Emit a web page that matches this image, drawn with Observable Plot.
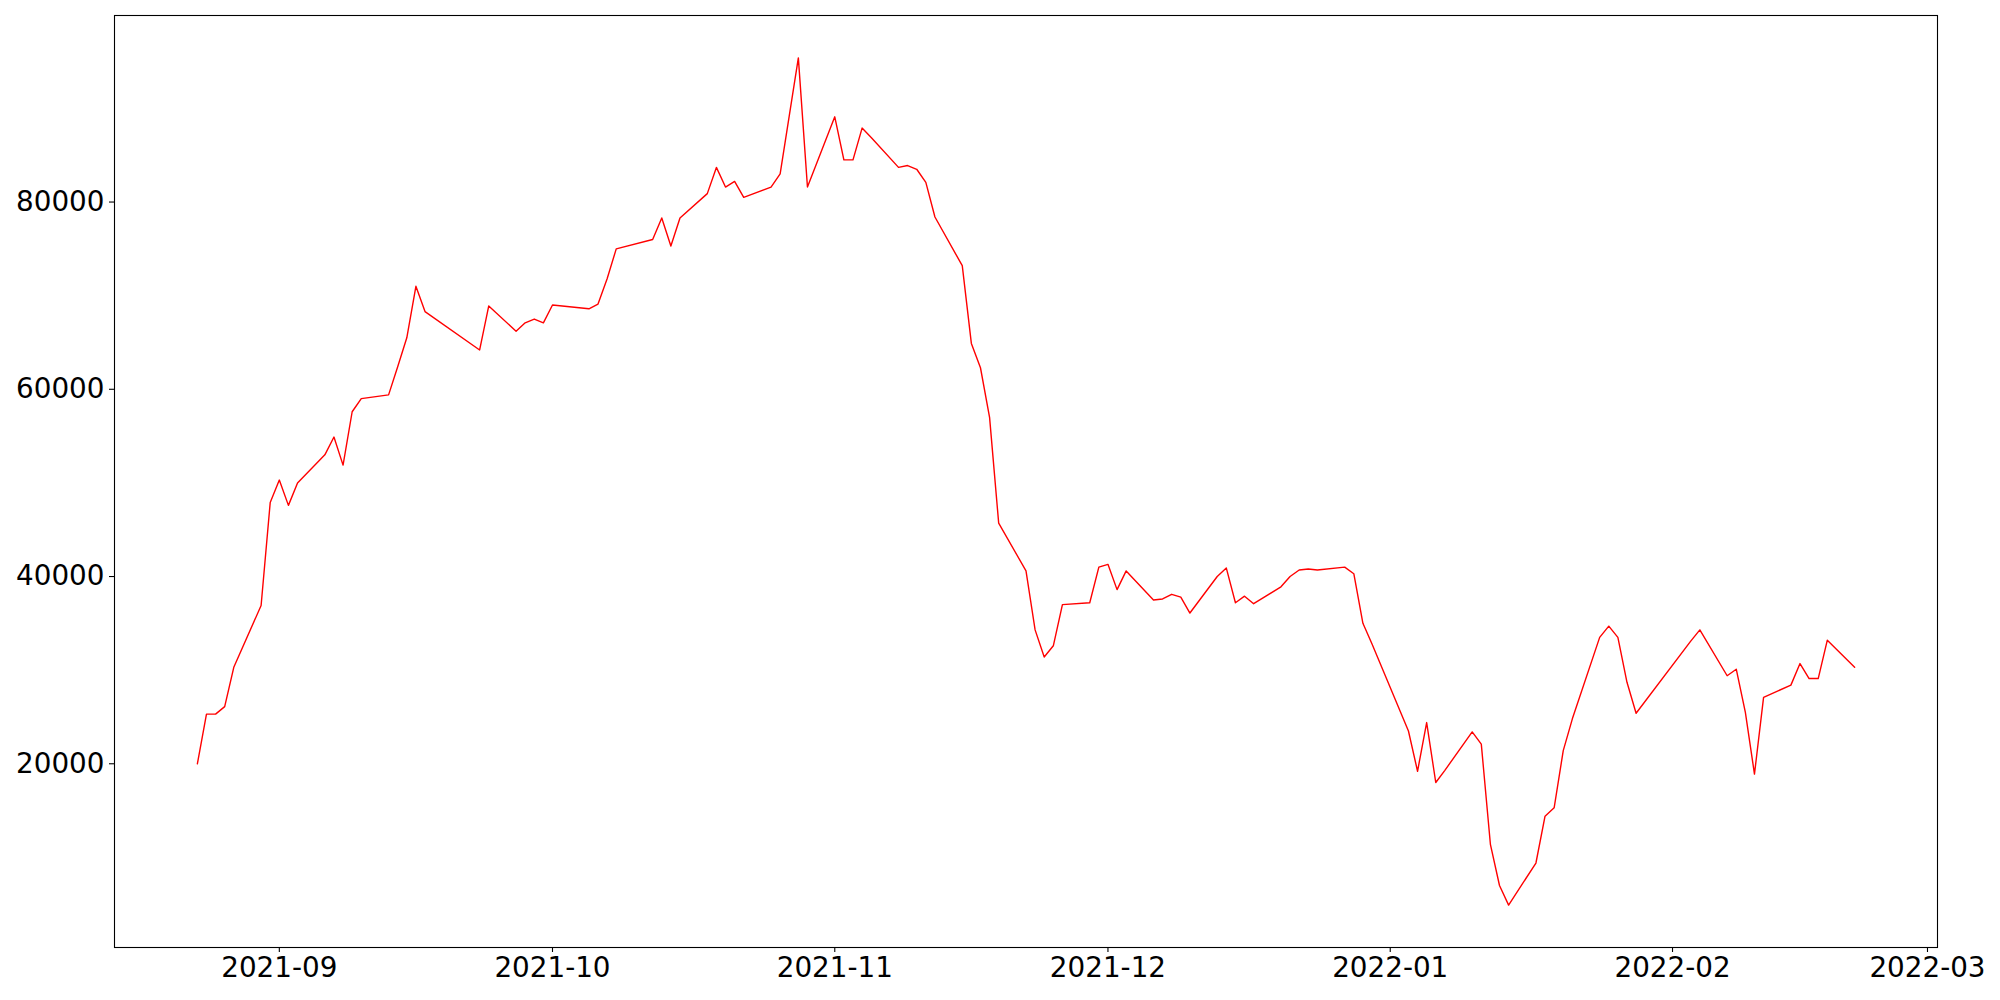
<!DOCTYPE html>
<html>
<head>
<meta charset="utf-8">
<script src="https://cdn.jsdelivr.net/npm/d3@7"></script>
<script src="https://cdn.jsdelivr.net/npm/@observablehq/plot@0.6"></script>
<style>
  html, body { margin: 0; padding: 0; background: #ffffff; }
  #chart { width: 2000px; height: 1000px; }
</style>
</head>
<body>
<div id="chart"></div>
<script>
// Trading dates (weekdays, market holidays absent)
const dates = [
  "2021-08-23","2021-08-24","2021-08-25","2021-08-26","2021-08-27",
  "2021-08-30","2021-08-31","2021-09-01","2021-09-02","2021-09-03",
  "2021-09-06","2021-09-07","2021-09-08","2021-09-09","2021-09-10",
  "2021-09-13","2021-09-14","2021-09-15","2021-09-16","2021-09-17",
  "2021-09-23","2021-09-24",
  "2021-09-27","2021-09-28","2021-09-29","2021-09-30","2021-10-01",
  "2021-10-05","2021-10-06","2021-10-07","2021-10-08",
  "2021-10-12","2021-10-13","2021-10-14","2021-10-15",
  "2021-10-18","2021-10-19","2021-10-20","2021-10-21","2021-10-22",
  "2021-10-25","2021-10-26","2021-10-27","2021-10-28","2021-10-29",
  "2021-11-01","2021-11-02","2021-11-03","2021-11-04","2021-11-05",
  "2021-11-08","2021-11-09","2021-11-10","2021-11-11","2021-11-12",
  "2021-11-15","2021-11-16","2021-11-17","2021-11-18","2021-11-19",
  "2021-11-22","2021-11-23","2021-11-24","2021-11-25","2021-11-26",
  "2021-11-29","2021-11-30","2021-12-01","2021-12-02","2021-12-03",
  "2021-12-06","2021-12-07","2021-12-08","2021-12-09","2021-12-10",
  "2021-12-13","2021-12-14","2021-12-15","2021-12-16","2021-12-17",
  "2021-12-20","2021-12-21","2021-12-22","2021-12-23","2021-12-24",
  "2021-12-27","2021-12-28","2021-12-29","2021-12-30",
  "2022-01-03","2022-01-04","2022-01-05","2022-01-06","2022-01-07",
  "2022-01-10","2022-01-11","2022-01-12","2022-01-13","2022-01-14",
  "2022-01-17","2022-01-18","2022-01-19","2022-01-20","2022-01-21",
  "2022-01-24","2022-01-25","2022-01-26","2022-01-27","2022-01-28",
  "2022-02-03","2022-02-04",
  "2022-02-07","2022-02-08","2022-02-09","2022-02-10","2022-02-11",
  "2022-02-14","2022-02-15","2022-02-16","2022-02-17","2022-02-18",
  "2022-02-21"
];

const values = [
  20000, 25300, 25300, 26100, 30300,
  36900, 47900, 50300, 47600, 50000,
  53000, 54900, 51900, 57600, 59000,
  59400, 62400, 65500, 71000, 68300,
  64200, 68900,
  66200, 67100, 67500, 67100, 69000,
  68600, 69100, 71800, 75000,
  76000, 78300, 75300, 78300,
  80900, 83700, 81600, 82200, 80500,
  81600, 83000, 89200, 95400, 81600,
  89100, 84500, 84500, 87900, 86900,
  83700, 83900, 83500, 82100, 78400,
  73200, 64900, 62300, 57000, 45700,
  40600, 34300, 31400, 32600, 37000,
  37200, 41000, 41300, 38600, 40600,
  37500, 37600, 38100, 37800, 36100,
  40000, 40900, 37200, 37900, 37100,
  38900, 40000, 40700, 40800, 40700,
  41000, 40300, 35000, 32800,
  23500, 19200, 24400, 18000, 19300,
  23400, 22100, 11400, 7000, 4900,
  9400, 14400, 15300, 21400, 24800,
  33500, 34700, 33500, 28700, 25400,
  33100, 34300,
  29400, 30100, 25500, 18900, 27100,
  28400, 30700, 29100, 29100, 33200,
  30300
];

const yTicks = [20000, 40000, 60000, 80000];

const parse = d3.utcParse("%Y-%m-%d");
const data = dates.map((d, i) => ({date: parse(d), value: values[i]}));

// matplotlib-like 5% margins
const [x0, x1] = d3.extent(data, d => d.date);
const xPad = (x1 - x0) * 0.05;
const [y0, y1] = d3.extent(data, d => d.value);
const yPad = (y1 - y0) * 0.05;

const FONT = 27.8;

const chart = Plot.plot({
  width: 2000,
  height: 1000,
  marginLeft: 114,
  marginRight: 63,
  marginTop: 15,
  marginBottom: 53,
  style: {
    fontFamily: "'DejaVu Sans', sans-serif",
    fontSize: FONT + "px",
    color: "#000000",
    background: "#ffffff"
  },
  x: {
    type: "utc",
    domain: [new Date(+x0 - xPad), new Date(+x1 + xPad)],
    label: null
  },
  y: {
    domain: [y0 - yPad, y1 + yPad],
    label: null
  },
  marks: [
    Plot.axisX({
      ticks: d3.utcMonth.every(1),
      tickFormat: d3.utcFormat("%Y-%m"),
      tickSize: 5,
      tickPadding: 5,
      strokeWidth: 1.1,
      fontSize: FONT,
      label: null
    }),
    Plot.axisY({
      ticks: yTicks,
      tickFormat: d3.format("d"),
      tickSize: 5,
      tickPadding: 5,
      strokeWidth: 1.1,
      fontSize: FONT,
      label: null
    }),
    Plot.line(data, {x: "date", y: "value", stroke: "#ff0000", strokeWidth: 1.4}),
    Plot.frame({stroke: "#000000", strokeWidth: 1.1})
  ]
});

document.getElementById("chart").appendChild(chart);
</script>
</body>
</html>
